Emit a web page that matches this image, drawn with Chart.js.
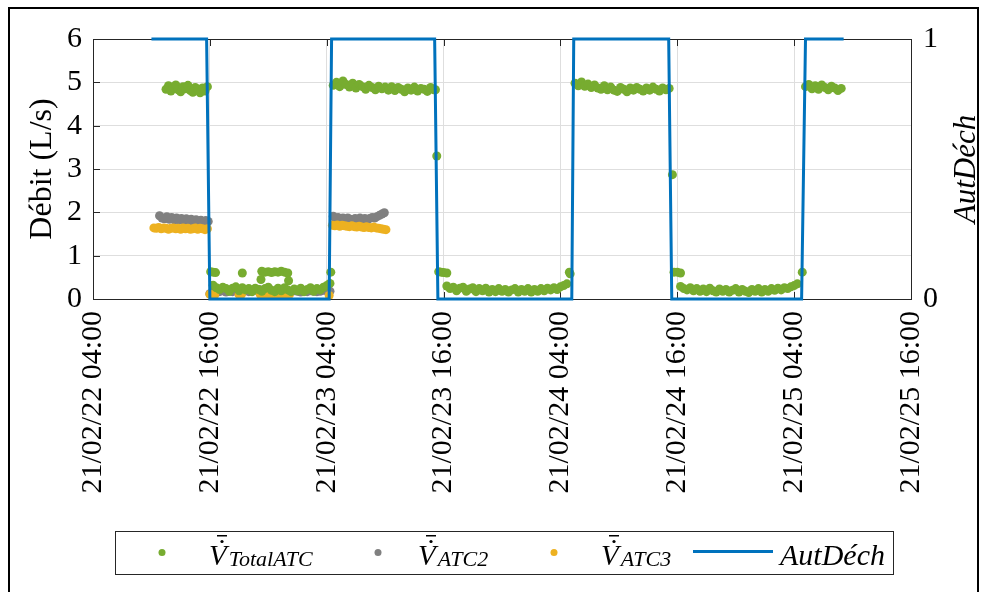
<!DOCTYPE html>
<html>
<head>
<meta charset="utf-8">
<script src="https://cdn.jsdelivr.net/npm/chart.js@4/dist/chart.umd.min.js"></script>
<style>
  html, body { margin: 0; padding: 0; background: #fff; }
  canvas { display: block; }
</style>
</head>
<body>
<canvas id="chart" width="984" height="592"></canvas>
<script>
// Time stamps are written as "DD HH:MM" (February 2021).
// Runs: [first sample, sampling step in minutes, measured values]

// Total flow through the ATC units (L/s)
const TOTAL_RUNS = [
  ['22 11:30', 15, [4.84, 4.92, 4.80, 4.89, 4.94, 4.83, 4.78, 4.90, 4.85, 4.93, 4.81, 4.77, 4.88, 4.84, 4.76, 4.87, 4.80, 4.90]],
  ['22 16:20', 20, [0.32, 0.26, 0.22, 0.27, 0.24, 0.18, 0.25, 0.28, 0.19, 0.26, 0.21, 0.24, 0.17, 0.25, 0.22, 0.18, 0.24, 0.27, 0.20, 0.17,
                    0.25, 0.19, 0.26, 0.21, 0.17, 0.23, 0.19, 0.25, 0.17, 0.22, 0.26, 0.18, 0.24, 0.21, 0.27, 0.31, 0.36]],
  ['23 04:40', 20, [4.93, 5.00, 4.90, 5.03, 4.95, 4.89, 4.98, 4.87, 4.95, 4.90, 4.84, 4.93, 4.88, 4.83, 4.91, 4.85, 4.89, 4.82, 4.90, 4.81,
                    4.88, 4.84, 4.78, 4.87, 4.82, 4.89, 4.80, 4.86, 4.84, 4.79, 4.88, 4.83]],
  ['23 16:20', 20, [0.30, 0.24, 0.27, 0.19, 0.25, 0.27, 0.18, 0.23, 0.26, 0.17, 0.24, 0.19, 0.25, 0.16, 0.22, 0.17, 0.24, 0.18, 0.22, 0.16,
                    0.21, 0.24, 0.16, 0.22, 0.18, 0.24, 0.16, 0.22, 0.18, 0.24, 0.19, 0.25, 0.21, 0.26, 0.22, 0.28, 0.31, 0.35]],
  ['24 05:30', 20, [4.98, 4.92, 5.01, 4.91, 4.96, 4.88, 4.94, 4.87, 4.84, 4.92, 4.83, 4.89, 4.82, 4.79, 4.88, 4.84, 4.78, 4.87, 4.82, 4.88,
                    4.84, 4.80, 4.87, 4.82, 4.89, 4.84, 4.80, 4.87, 4.83, 4.86]],
  ['24 16:20', 20, [0.29, 0.24, 0.21, 0.26, 0.19, 0.24, 0.18, 0.23, 0.17, 0.25, 0.19, 0.16, 0.23, 0.18, 0.22, 0.16, 0.20, 0.24, 0.16, 0.22,
                    0.18, 0.15, 0.22, 0.18, 0.24, 0.16, 0.22, 0.18, 0.24, 0.20, 0.25, 0.21, 0.26, 0.24, 0.28, 0.31, 0.35]],
  ['25 05:10', 20, [4.90, 4.95, 4.85, 4.92, 4.84, 4.94, 4.88, 4.83, 4.91, 4.87, 4.81, 4.86]]
];
const TOTAL_POINTS = [
  ['22 16:05', 0.63], ['22 16:20', 0.62], ['22 16:35', 0.61], ['22 19:20', 0.60],
  ['22 21:15', 0.45], ['22 21:20', 0.64], ['22 21:40', 0.62], ['22 22:00', 0.63], ['22 22:20', 0.61],
  ['22 22:40', 0.63], ['22 23:00', 0.62], ['22 23:20', 0.64], ['22 23:40', 0.62], ['23 00:00', 0.60], ['23 00:05', 0.42],
  ['23 04:25', 0.62], ['23 15:10', 4.83], ['23 15:18', 3.30],
  ['23 15:30', 0.63], ['23 15:45', 0.62], ['23 16:00', 0.61], ['23 16:20', 0.60],
  ['24 04:55', 0.62], ['24 05:00', 0.58], ['24 15:30', 2.87],
  ['24 15:40', 0.62], ['24 16:00', 0.62], ['24 16:20', 0.60], ['25 04:50', 0.62]
];

// ATC2 flow (L/s)
const ATC2_RUNS = [
  ['22 10:50', 15, [1.92, 1.87, 1.85, 1.90, 1.84, 1.88, 1.83, 1.87, 1.82, 1.86, 1.81, 1.85, 1.80, 1.84, 1.79, 1.83, 1.78, 1.82, 1.77, 1.81, 1.79]],
  ['22 16:00', 20, [0.12, 0.15, 0.18, 0.17, 0.19, 0.16, 0.18, 0.17, 0.20, 0.18, 0.16, 0.19, 0.17, 0.18, 0.20, 0.22, 0.21, 0.22, 0.20, 0.19,
                    0.18, 0.17, 0.19, 0.16, 0.18, 0.17, 0.19, 0.18, 0.16, 0.18, 0.17, 0.19, 0.18, 0.17, 0.18, 0.20, 0.19, 0.18]],
  ['23 04:40', 15, [1.91, 1.85, 1.88, 1.84, 1.87, 1.83, 1.87, 1.84, 1.82, 1.86, 1.83, 1.87, 1.83, 1.86, 1.82, 1.86, 1.88, 1.87, 1.90, 1.93, 1.96, 1.99]]
];

// ATC3 flow (L/s)
const ATC3_RUNS = [
  ['22 10:15', 15, [1.64, 1.63, 1.65, 1.62, 1.64, 1.63, 1.61, 1.63, 1.64, 1.62, 1.63, 1.61, 1.64, 1.62, 1.63, 1.61, 1.62, 1.64, 1.61, 1.63, 1.62, 1.60, 1.62]],
  ['22 21:10', 15, [0.11, 0.10, 0.12, 0.11, 0.10, 0.11, 0.12, 0.10, 0.11, 0.10, 0.12, 0.11, 0.10]],
  ['23 04:35', 15, [1.70, 1.69, 1.71, 1.68, 1.70, 1.69, 1.68, 1.67, 1.69, 1.67, 1.66, 1.68, 1.66, 1.65, 1.67, 1.65, 1.64, 1.66, 1.64, 1.63, 1.62, 1.61, 1.60]]
];
const ATC3_POINTS = [
  ['22 16:00', 0.11], ['22 16:15', 0.10], ['22 16:30', 0.09], ['22 19:00', 0.10], ['22 19:15', 0.11], ['23 04:15', 0.08]
];

// Discharge authorisation (0/1)
const AUT_TIMES  = ['22 10:00', '22 15:40', '22 16:00', '23 04:15', '23 04:30', '23 15:05', '23 15:25',
                    '24 05:10', '24 05:22', '24 15:07', '24 15:26', '25 04:46', '25 05:10', '25 09:05'];
const AUT_VALUES = [1, 1, 0, 0, 1, 1, 0, 0, 1, 1, 0, 0, 1, 1];

const SERIES_SUBSCRIPTS = ['TotalATC', 'ATC2', 'ATC3'];
const AUT_LABEL = 'AutDéch';
const Y_TITLE = 'Débit (L/s)';

const X_START = '22 04:00';
const X_END = '25 16:00';
const X_STEP_HOURS = 12;

const COLORS = { total: '#77AC30', atc2: '#808080', atc3: '#EDB120', aut: '#0072BD' };
const SERIF = '"Liberation Serif", "Times New Roman", serif';

function stamp(s) {
  const [d, hm] = s.split(' ');
  const [h, m] = hm.split(':').map(Number);
  return Date.UTC(2021, 1, Number(d), h, m);
}
function fromRuns(runs, singles) {
  const pts = [];
  runs.forEach(([start, step, values]) => {
    const t0 = stamp(start);
    values.forEach((v, i) => pts.push({ x: t0 + i * step * 60000, y: v }));
  });
  (singles || []).forEach(([t, v]) => pts.push({ x: stamp(t), y: v }));
  return pts;
}
function pad2(n) { return String(n).padStart(2, '0'); }
function fmtTick(v) {
  const d = new Date(v);
  return pad2(d.getUTCFullYear() % 100) + '/' + pad2(d.getUTCMonth() + 1) + '/' + pad2(d.getUTCDate()) +
         ' ' + pad2(d.getUTCHours()) + ':' + pad2(d.getUTCMinutes());
}

const INK = '#262626';
const GRID = '#dedede';

// Axes box, inward tick marks, right-axis title, legend and outer frame
const decorations = {
  id: 'decorations',
  beforeDatasetsDraw(chart) {
    const { ctx, chartArea: a, scales } = chart;
    ctx.save();
    ctx.strokeStyle = INK;
    ctx.lineWidth = 1;
    ctx.strokeRect(Math.round(a.left) + 0.5, Math.round(a.top) + 0.5, Math.round(a.right - a.left), Math.round(a.bottom - a.top));
    ctx.beginPath();
    scales.x.ticks.forEach(t => {
      const x = Math.round(scales.x.getPixelForValue(t.value)) + 0.5;
      ctx.moveTo(x, a.bottom); ctx.lineTo(x, a.bottom - 7);
      ctx.moveTo(x, a.top); ctx.lineTo(x, a.top + 7);
    });
    scales.y.ticks.forEach(t => {
      const y = Math.round(scales.y.getPixelForValue(t.value)) + 0.5;
      ctx.moveTo(a.left, y); ctx.lineTo(a.left + 7, y);
    });
    scales.y1.ticks.forEach(t => {
      const y = Math.round(scales.y1.getPixelForValue(t.value)) + 0.5;
      ctx.moveTo(a.right, y); ctx.lineTo(a.right - 7, y);
    });
    ctx.stroke();
    ctx.restore();
  },
  afterDraw(chart) {
    const { ctx, chartArea: a } = chart;
    ctx.save();

    // right axis title, reading upwards
    ctx.translate(967, (a.top + a.bottom) / 2);
    ctx.rotate(-Math.PI / 2);
    ctx.font = 'italic 31px ' + SERIF;
    ctx.fillStyle = '#000';
    ctx.textAlign = 'center';
    ctx.textBaseline = 'middle';
    ctx.fillText(AUT_LABEL, 0, 0);
    ctx.setTransform(1, 0, 0, 1, 0, 0);

    // legend
    const box = { x: 115, y: 531, w: 778, h: 43 };
    ctx.fillStyle = '#fff';
    ctx.fillRect(box.x, box.y, box.w, box.h);
    ctx.strokeStyle = INK;
    ctx.lineWidth = 1;
    ctx.strokeRect(box.x + 0.5, box.y + 0.5, box.w, box.h);
    const cy = box.y + box.h / 2;
    const base = 565;
    const markerX = [162, 378, 554];
    const textX = [209, 418, 601];
    const ds = chart.data.datasets;
    SERIES_SUBSCRIPTS.forEach((sub, i) => {
      ctx.fillStyle = ds[i].backgroundColor;
      ctx.beginPath();
      ctx.arc(markerX[i], cy, 3.5, 0, Math.PI * 2);
      ctx.fill();
      ctx.fillStyle = '#000';
      ctx.textAlign = 'left';
      ctx.textBaseline = 'alphabetic';
      ctx.font = 'italic 29px ' + SERIF;
      ctx.fillText('V', textX[i], base);
      const vw = ctx.measureText('V').width;
      // flow-rate accents: dot and bar above V
      ctx.beginPath();
      ctx.arc(textX[i] + 13, 541.5, 1.6, 0, Math.PI * 2);
      ctx.fill();
      ctx.fillRect(textX[i] + 8, 535, 10, 1.5);
      ctx.font = 'italic 22px ' + SERIF;
      ctx.fillText(sub, textX[i] + vw + 2, base + 1);
    });
    ctx.strokeStyle = ds[3].borderColor;
    ctx.lineWidth = 3;
    ctx.beginPath();
    ctx.moveTo(693, cy - 1); ctx.lineTo(773, cy - 1);
    ctx.stroke();
    ctx.fillStyle = '#000';
    ctx.font = 'italic 30px ' + SERIF;
    ctx.fillText(AUT_LABEL, 780, base);

    // outer frame
    ctx.strokeStyle = '#000';
    ctx.lineWidth = 2;
    ctx.strokeRect(9, 8, 969, 640);
    ctx.restore();
  }
};

const scatterStyle = color => ({
  type: 'scatter', backgroundColor: color, borderColor: color, borderWidth: 0,
  pointRadius: 4.5, pointHoverRadius: 4.5, yAxisID: 'y'
});

new Chart(document.getElementById('chart'), {
  data: {
    datasets: [
      Object.assign(scatterStyle(COLORS.total), { label: SERIES_SUBSCRIPTS[0], data: fromRuns(TOTAL_RUNS, TOTAL_POINTS), order: 1 }),
      Object.assign(scatterStyle(COLORS.atc2), { label: SERIES_SUBSCRIPTS[1], data: fromRuns(ATC2_RUNS), order: 3 }),
      Object.assign(scatterStyle(COLORS.atc3), { label: SERIES_SUBSCRIPTS[2], data: fromRuns(ATC3_RUNS, ATC3_POINTS), order: 2 }),
      {
        type: 'line', label: AUT_LABEL, yAxisID: 'y1', order: 0, clip: 5,
        data: AUT_TIMES.map((t, i) => ({ x: stamp(t), y: AUT_VALUES[i] })),
        borderColor: COLORS.aut, backgroundColor: COLORS.aut, borderWidth: 3,
        pointRadius: 0, tension: 0, fill: false
      }
    ]
  },
  options: {
    responsive: false,
    animation: false,
    devicePixelRatio: 1,
    layout: { padding: { top: 39, left: 0, right: 0, bottom: 0 } },
    plugins: { legend: { display: false }, tooltip: { enabled: false } },
    scales: {
      x: {
        type: 'linear', position: 'bottom',
        min: stamp(X_START), max: stamp(X_END),
        ticks: {
          stepSize: X_STEP_HOURS * 3600000, autoSkip: false,
          minRotation: 90, maxRotation: 90, padding: 12,
          color: '#000', font: { family: SERIF, size: 30 },
          callback: v => fmtTick(v)
        },
        grid: { color: GRID, drawTicks: false },
        border: { display: false },
        afterFit: s => { s.height = 293; }
      },
      y: {
        position: 'left', min: 0, max: 6,
        ticks: { stepSize: 1, padding: 11, color: '#000', font: { family: SERIF, size: 30 } },
        grid: { color: GRID, drawTicks: false },
        border: { display: false },
        title: { display: true, text: Y_TITLE, color: '#000', font: { family: SERIF, size: 32 }, padding: { top: 23, bottom: 0 } },
        afterFit: s => { s.width = 93; }
      },
      y1: {
        position: 'right', min: 0, max: 1,
        ticks: { stepSize: 1, padding: 12, color: '#000', font: { family: SERIF, size: 30 } },
        grid: { display: false, drawTicks: false },
        border: { display: false },
        afterFit: s => { s.width = 73; }
      }
    }
  },
  plugins: [decorations]
});
</script>
</body>
</html>
